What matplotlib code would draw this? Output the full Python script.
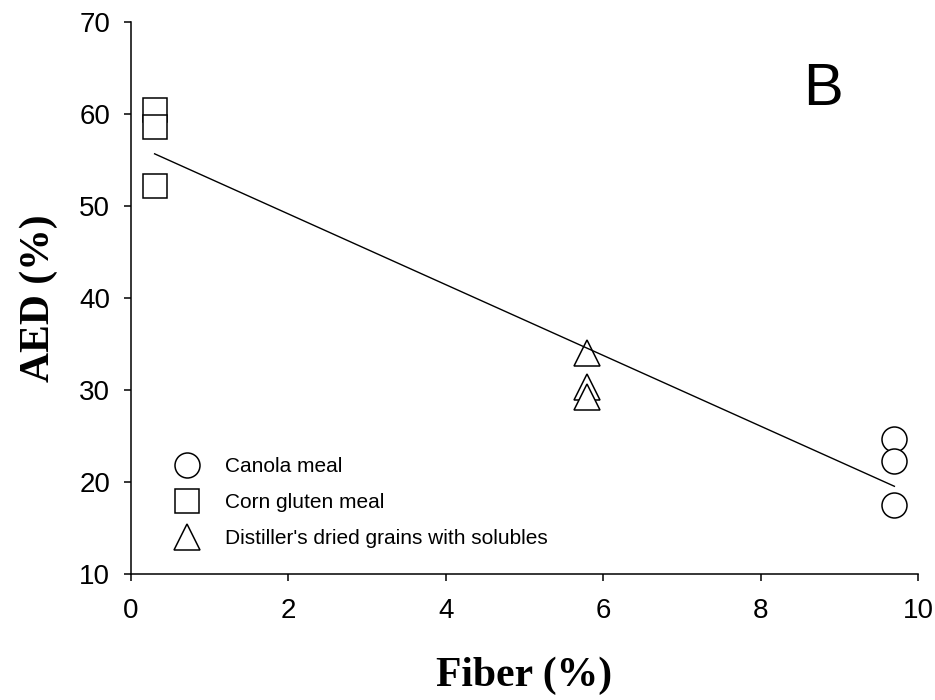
import numpy as np
import matplotlib
matplotlib.use("Agg")
import matplotlib.pyplot as plt

# Data
canola_x = [9.7, 9.7, 9.7]
canola_y = [24.7, 22.3, 17.5]
corn_x = [0.3, 0.3, 0.3]
corn_y = [60.4, 58.6, 52.2]
ddgs_x = [5.8, 5.8, 5.8]
ddgs_y = [34.0, 30.3, 29.2]
labels = ["Canola meal", "Corn gluten meal", "Distiller's dried grains with solubles"]
x_ticks = [0, 2, 4, 6, 8, 10]
y_ticks = [10, 20, 30, 40, 50, 60, 70]

plt.rcParams['font.family'] = ['Liberation Sans', 'DejaVu Sans']

fig = plt.figure(figsize=(9.35, 7.0), dpi=100)
ax = fig.add_axes([131/935, 1-574/700, (918-131)/935, (574-22)/700])

ms = 18
mew = 1.1
ax.plot(canola_x, canola_y, linestyle='none', marker='o', ms=ms, mfc='white', mec='black', mew=mew, label=labels[0], zorder=3)
ax.plot(corn_x, corn_y, linestyle='none', marker='s', ms=17.5, mfc='white', mec='black', mew=mew, label=labels[1], zorder=3)
ax.plot(ddgs_x, ddgs_y, linestyle='none', marker='^', ms=19, mfc='white', mec='black', mew=mew, label=labels[2], zorder=3)

# regression line through all points
all_x = np.array(canola_x + corn_x + ddgs_x)
all_y = np.array(canola_y + corn_y + ddgs_y)
slope, intercept = np.polyfit(all_x, all_y, 1)
xs = np.array([all_x.min(), all_x.max()])
ax.plot(xs, slope * xs + intercept, color='black', lw=1.0, zorder=4)

ax.set_xlim(0, 10)
ax.set_ylim(10, 70)
ax.set_xticks(x_ticks)
ax.set_yticks(y_ticks)
ax.tick_params(direction='out', length=5, width=1.1, labelsize=20)
ax.tick_params(axis='x', pad=12)
ax.tick_params(axis='y', pad=10)
for s in ['top', 'right']:
    ax.spines[s].set_visible(False)
for s in ['left', 'bottom']:
    ax.spines[s].set_linewidth(1.1)

ax.set_xlabel('Fiber (%)', family=['Liberation Serif'], fontweight='bold', fontsize=30)
ax.set_ylabel('AED (%)', family=['Liberation Serif'], fontweight='bold', fontsize=30)
ax.xaxis.set_label_coords(0.5, -0.149)
ax.yaxis.set_label_coords(-0.093, 0.5)

ax.text(0.879, 0.85, 'B', transform=ax.transAxes, fontsize=43, ha='center', va='baseline')

leg = ax.legend(loc='upper left', bbox_to_anchor=(0.0508, 0.212), frameon=False,
                fontsize=15, borderpad=0, borderaxespad=0, handlelength=1.5,
                handletextpad=1.08, labelspacing=0.82, markerscale=1.0, numpoints=1)

fig.savefig('out.png', dpi=100)
